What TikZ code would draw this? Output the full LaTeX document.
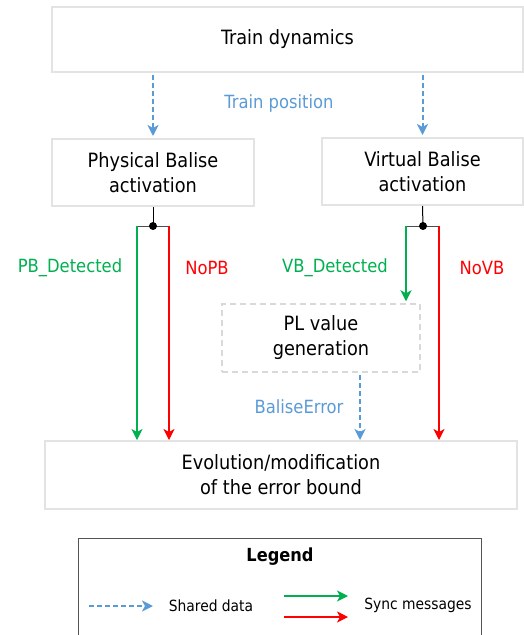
\documentclass[tikz,border=0pt]{standalone}
\usepackage{fontspec}
\setmainfont{DejaVu Sans Condensed}
\usetikzlibrary{arrows.meta}
\definecolor{boxgray}{HTML}{E3E3E3}
\definecolor{dashgray}{HTML}{D9D9D9}
\definecolor{shblue}{HTML}{5B9BD5}
\definecolor{syncgreen}{HTML}{00B050}
\definecolor{syncred}{HTML}{FF0000}
\definecolor{legline}{HTML}{555555}
\tikzset{
  x=1pt, y=-1pt,
  blockbox/.style={draw=boxgray, line width=2pt, align=center, inner sep=0pt,
    font=\fontsize{19.7}{25}\selectfont},
  plbox/.style={draw=dashgray, line width=1.5pt, dash pattern=on 6pt off 4pt, align=center,
    inner sep=0pt, font=\fontsize{19.7}{25}\selectfont},
  tipshape/.style={-{Stealth[length=11pt,width=11pt,inset=3pt]}},
  shared/.style={draw=shblue, line width=2pt, dash pattern=on 5pt off 3pt, tipshape},
  syncg/.style={draw=syncgreen, line width=1.1pt, tipshape},
  syncr/.style={draw=syncred, line width=1.1pt, tipshape},
  lbl/.style={font=\fontsize{18.2}{22}\selectfont, inner sep=0pt},
  leglbl/.style={font=\fontsize{15.4}{18}\selectfont, inner sep=0pt},
}
\begin{document}
\begin{tikzpicture}
\useasboundingbox (0,0) rectangle (524,635);
% blocks
\node[blockbox, minimum width=471pt, minimum height=65pt] (top) at (287.5,39.5) {Train dynamics};
\node[blockbox, minimum width=202pt, minimum height=67pt] (phys) at (153,172.5) {Physical Balise\\activation};
\node[blockbox, minimum width=201pt, minimum height=67pt] (virt) at (422.5,171.5) {Virtual Balise\\activation};
\node[plbox, minimum width=198pt, minimum height=68pt] (pl) at (321,338) {PL value\\generation};
\node[blockbox, minimum width=472pt, minimum height=68pt] (bot) at (281,475) {Evolution/modification\\of the error bound};
% shared data from train dynamics
\draw[shared, shorten <=2pt, shorten >=2pt] (phys.north |- top.south) -- (phys.north);
\draw[shared, shorten <=2pt, shorten >=2pt] (virt.north |- top.south) -- (virt.north);
\node[lbl, text=shblue] (tpos) at (279,103) {Train position};
% physical junction
\coordinate (jp) at (153,226);
\coordinate (jpl) at (137,226);
\coordinate (jpr) at (169,226);
\draw[black, line width=1pt] (phys.south) -- (jp);
\draw[black!70, line width=1pt] (jpl) -- (jpr);
\fill[black] (jp) circle (4pt);
\draw[syncg] (jpl) -- (jpl |- bot.north);
\draw[syncr] (jpr) -- (jpr |- bot.north);
% virtual junction
\coordinate (jv) at (423,226);
\coordinate (jvl) at (406,226);
\coordinate (jvr) at (439,226);
\draw[black, line width=1pt] (virt.south) -- (jv);
\draw[black!70, line width=1pt] (jvl) -- (jvr);
\fill[black] (jv) circle (4pt);
\draw[syncg, shorten >=2pt] (jvl) -- (jvl |- pl.north);
\draw[syncr] (jvr) -- (jvr |- bot.north);
% PL to bottom
\coordinate (plx) at (360,338);
\draw[shared, shorten <=2pt] (plx |- pl.south) -- (plx |- bot.north);
% labels
\node[lbl, text=syncgreen] (pbd) at (70,268) {PB\_Detected};
\node[lbl, text=syncred] (nopb) at (207,268) {NoPB};
\node[lbl, text=syncgreen] (vbd) at (335,268) {VB\_Detected};
\node[lbl, text=syncred] (novb) at (482,268) {NoVB};
\node[lbl, text=shblue] (berr) at (299,407) {BaliseError};
% legend
\node[draw=legline, line width=1pt, minimum width=403pt, minimum height=130pt, inner sep=0pt] (leg) at (279.5,603) {};
\node[font=\fontsize{18}{21}\selectfont\bfseries, inner sep=0pt] (legt) at (280,557) {Legend};
\coordinate (la1) at (89,606);
\coordinate (la2) at (153,606);
\draw[shared] (la1) -- (la2);
\node[leglbl] (shd) at (211,606) {Shared data};
\coordinate (lg1) at (284,596);
\coordinate (lg2) at (348,596);
\coordinate (lr1) at (284,617);
\coordinate (lr2) at (348,617);
\draw[syncg] (lg1) -- (lg2);
\draw[syncr] (lr1) -- (lr2);
\node[leglbl] (sync) at (418,605) {Sync messages};
\end{tikzpicture}
\end{document}
